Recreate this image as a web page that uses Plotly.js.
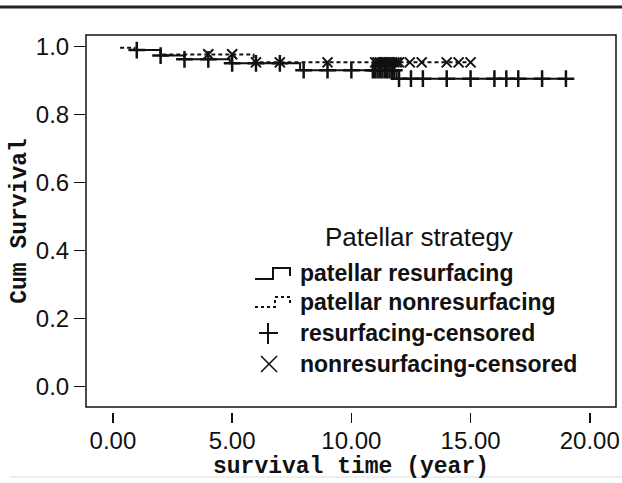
<!DOCTYPE html>
<html>
<head>
<meta charset="utf-8">
<script src="https://cdn.plot.ly/plotly-3.0.1.min.js"></script>
<style>html,body{margin:0;padding:0;background:#fff;}#chart{width:622px;height:483px;}</style>
</head>
<body>
<div id="chart"></div>
<script>
// ---- data (Kaplan-Meier curves) ----
const resurfTime = [0.9, 2.0, 3.0, 4.9, 7.85, 11.9, 19.0];
const resurfSurv = [0.990, 0.974, 0.963, 0.951, 0.931, 0.906, 0.906];

const nonresTime = [0.3, 0.9, 2.0, 5.9, 15.0];
const nonresSurv = [0.997, 0.990, 0.977, 0.954, 0.954];

const resurfCensTime = [1.0, 2.0, 3.0, 4.0, 5.0, 6.0, 7.0, 8.0, 9.0, 10.0,
  10.9, 11.0, 11.1, 11.2, 11.3, 11.4, 11.5, 11.6, 11.7, 11.8,
  12.0, 12.5, 13.0, 14.0, 15.0, 16.0, 16.5, 17.0, 18.0, 19.0];
const resurfCensSurv = [0.990, 0.974, 0.963, 0.963, 0.951, 0.951, 0.951, 0.931, 0.931, 0.931,
  0.931, 0.931, 0.931, 0.931, 0.931, 0.931, 0.931, 0.931, 0.931, 0.931,
  0.906, 0.906, 0.906, 0.906, 0.906, 0.906, 0.906, 0.906, 0.906, 0.906];

const nonresCensTime = [4.0, 5.0, 6.0, 7.0, 9.0, 11.0, 11.1, 11.2, 11.3, 11.4, 11.5,
  11.6, 11.7, 11.8, 11.9, 12.0, 12.45, 12.95, 14.0, 14.5, 15.0];
const nonresCensSurv = [0.978, 0.978, 0.954, 0.954, 0.954, 0.954, 0.954, 0.954, 0.954, 0.954, 0.954,
  0.954, 0.954, 0.954, 0.954, 0.954, 0.954, 0.954, 0.954, 0.954, 0.954];

const xTickVals = [0, 5, 10, 15, 20];
const xTickText = ['0.00', '5.00', '10.00', '15.00', '20.00'];
const yTickVals = [0, 0.2, 0.4, 0.6, 0.8, 1.0];
const yTickText = ['0.0', '0.2', '0.4', '0.6', '0.8', '1.0'];

const legendTitle = 'Patellar strategy';
const legendLabels = ['patellar resurfacing', 'patellar nonresurfacing',
  'resurfacing-censored', 'nonresurfacing-censored'];

// ---- layout helpers ----
const W = 622, H = 483, M = {l: 86, r: 6, t: 35, b: 71};
const pw = W - M.l - M.r, ph = H - M.t - M.b;
const px = x => (x - M.l) / pw;
const py = y => (H - M.b - y) / ph;
const SANS = 'Liberation Sans, Arial, sans-serif';
const MONO = 'Liberation Mono, Courier New, monospace';
const INK = '#111';

const traces = [
  {x: resurfTime, y: resurfSurv, mode: 'lines', line: {shape: 'hv', color: INK, width: 2}, hoverinfo: 'skip'},
  {x: nonresTime, y: nonresSurv, mode: 'lines', line: {shape: 'hv', color: INK, width: 2, dash: '4px,3px'}, hoverinfo: 'skip'},
  {x: resurfCensTime, y: resurfCensSurv, mode: 'markers',
   marker: {symbol: 'cross-thin', size: 12, line: {color: INK, width: 2.5}}, hoverinfo: 'skip'},
  {x: nonresCensTime, y: nonresCensSurv, mode: 'markers',
   marker: {symbol: 'x-thin', size: 10, line: {color: INK, width: 2}}, hoverinfo: 'skip'}
];

const shapes = [
  // plot frame
  {type: 'rect', xref: 'x domain', yref: 'y domain', x0: 0, x1: 1, y0: 0, y1: 1,
   line: {color: INK, width: 1.5}},
  // top rule
  {type: 'line', xref: 'paper', yref: 'paper', x0: px(0), x1: px(622), y0: py(7), y1: py(7),
   line: {color: '#222', width: 3}},
  // bottom faint rule
  {type: 'line', xref: 'paper', yref: 'paper', x0: px(10), x1: px(622), y0: py(477), y1: py(477),
   line: {color: '#ddd', width: 1}},
  // legend glyphs
  {type: 'path', xref: 'paper', yref: 'paper',
   path: `M${px(255)},${py(279)} L${px(273)},${py(279)} L${px(273)},${py(268)} L${px(290)},${py(268)} L${px(290)},${py(276)}`,
   line: {color: INK, width: 2}},
  {type: 'path', xref: 'paper', yref: 'paper',
   path: `M${px(255)},${py(307)} L${px(275)},${py(307)} L${px(275)},${py(297)} L${px(290)},${py(297)} L${px(290)},${py(304)}`,
   line: {color: INK, width: 2, dash: 'dot'}},
  {type: 'line', xref: 'paper', yref: 'paper', x0: px(259), x1: px(278), y0: py(333), y1: py(333), line: {color: INK, width: 2}},
  {type: 'line', xref: 'paper', yref: 'paper', x0: px(268), x1: px(268), y0: py(323), y1: py(344), line: {color: INK, width: 2}},
  {type: 'line', xref: 'paper', yref: 'paper', x0: px(261), x1: px(277), y0: py(356), y1: py(372), line: {color: INK, width: 1.6}},
  {type: 'line', xref: 'paper', yref: 'paper', x0: px(261), x1: px(277), y0: py(372), y1: py(356), line: {color: INK, width: 1.6}}
];

const legendY = [273, 302, 333, 364];
const annotations = [
  {xref: 'paper', yref: 'paper', x: px(419), y: py(237), xanchor: 'center', yanchor: 'middle',
   text: legendTitle, showarrow: false, font: {family: SANS, size: 26, color: INK}}
].concat(legendLabels.map((t, i) => ({
  xref: 'paper', yref: 'paper', x: px(298), y: py(legendY[i]), xanchor: 'left', yanchor: 'middle',
  text: '<b>' + t + '</b>', showarrow: false, font: {family: SANS, size: 23, color: INK}
})));

const layout = {
  width: W, height: H,
  margin: M,
  paper_bgcolor: '#fff', plot_bgcolor: '#fff',
  showlegend: false,
  xaxis: {
    range: [-1.13, 21.1], anchor: 'free', position: 0,
    tickvals: xTickVals, ticktext: xTickText,
    ticks: 'outside', ticklen: 10, tickwidth: 1.5, tickcolor: INK,
    ticklabelstandoff: -3,
    showline: false, showgrid: false, zeroline: false,
    tickfont: {family: SANS, size: 24, color: INK},
    title: {text: '<b>survival time (year)</b>', font: {family: MONO, size: 23, color: INK}, standoff: 0}
  },
  yaxis: {
    range: [-0.0597, 1.0344], domain: [py(407), 1],
    tickvals: yTickVals, ticktext: yTickText,
    ticks: 'outside', ticklen: 11, tickwidth: 1.5, tickcolor: INK,
    showline: false, showgrid: false, zeroline: false,
    tickfont: {family: SANS, size: 24, color: INK},
    title: {text: '<b>Cum Survival</b>', font: {family: MONO, size: 23, color: INK}, standoff: 2}
  },
  shapes: shapes,
  annotations: annotations
};

Plotly.newPlot('chart', traces, layout, {staticPlot: true, displayModeBar: false});
</script>
</body>
</html>
